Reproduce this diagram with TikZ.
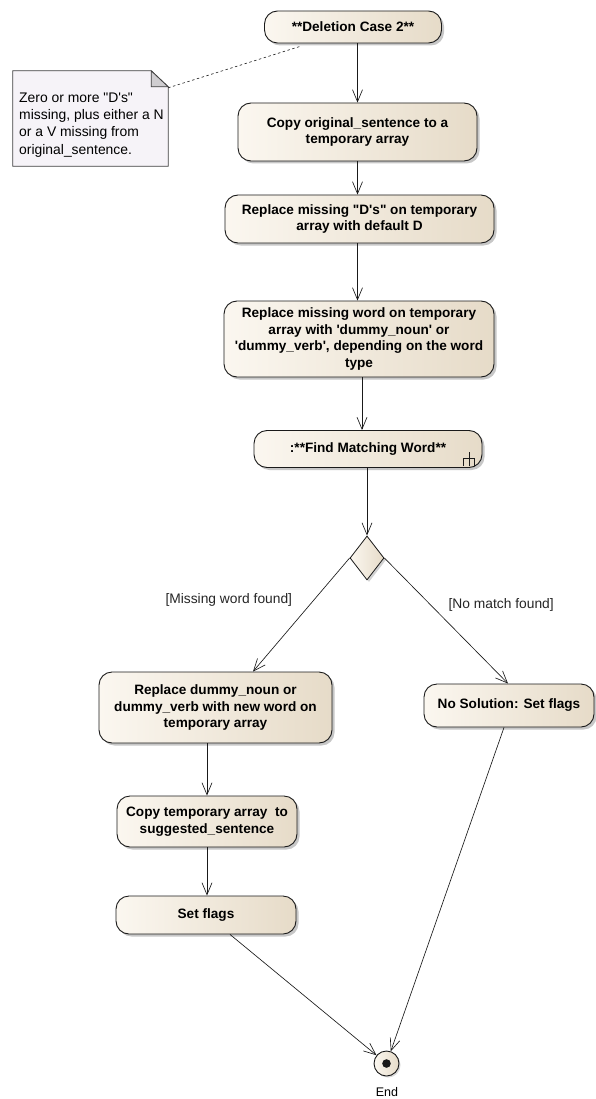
\documentclass[tikz,border=0pt]{standalone}
\usepackage{fontspec}
\setmainfont{Liberation Sans}
\usetikzlibrary{arrows.meta,shapes.geometric,shadows,calc}
\newcommand{\sq}{\textquotesingle}
\newcommand{\dq}{\textquotedbl}
\definecolor{actlight}{HTML}{FBF7F0}
\definecolor{actdark}{HTML}{E6DBC8}
\definecolor{notefill}{HTML}{F6F3F8}
\definecolor{foldfill}{HTML}{CFCDD0}
\definecolor{edgecol}{HTML}{1A1A1A}
\tikzset{
  activity/.style={rectangle, rounded corners=13pt, draw=edgecol, line width=0.9pt,
    left color=actlight, right color=actdark, align=center, inner sep=2pt,
    font=\bfseries\fontsize{13.6}{16.5}\selectfont,
    drop shadow={shadow xshift=2.5pt, shadow yshift=-2.5pt, fill=black!40, opacity=0.55}},
  decision/.style={diamond, aspect=0.77, draw=edgecol, line width=0.8pt,
    left color=actlight, right color=actdark, inner sep=0pt,
    minimum width=34pt, minimum height=44pt,
    drop shadow={shadow xshift=2pt, shadow yshift=-2pt, fill=black!35, opacity=0.5}},
  flow/.style={draw=edgecol, line width=0.65pt,
    -{Straight Barb[length=12pt,width=10pt,line width=0.65pt]}},
  guard/.style={font=\fontsize{13.8}{15}\selectfont, text=black!85},
  notetext/.style={align=left, anchor=north west, inner sep=0pt,
    font=\fontsize{13.9}{17.3}\selectfont},
  anchorlink/.style={draw=edgecol, line width=0.6pt, dash pattern=on 2.5pt off 2.5pt}
}
\begin{document}
\begin{tikzpicture}[x=1pt,y=-1pt]
\useasboundingbox[fill=white] (0,0) rectangle (596,1099);

% activity nodes
\node[activity, minimum width=177pt, minimum height=32pt] (start) at (353,27) {**Deletion Case 2**};
\node[activity, minimum width=239pt, minimum height=58pt] (copyA) at (357.5,132) {Copy original\_sentence to a\\temporary array};
\node[activity, minimum width=269pt, minimum height=48pt] (repD) at (359.5,219) {Replace missing \dq D\sq s\dq{} on temporary\\array with default D};
\node[activity, minimum width=270pt, minimum height=76pt] (repW) at (359,339) {Replace missing word on temporary\\array with \sq dummy\_noun\sq{} or\\\sq dummy\_verb\sq, depending on the word\\type};
\node[activity, minimum width=228pt, minimum height=37pt] (find) at (368,449) {:**Find Matching Word**};
\node[decision] (dec) at (367,558) {};
\node[activity, minimum width=233pt, minimum height=71pt] (repN) at (215.5,707.5) {Replace dummy\_noun or\\dummy\_verb with new word on\\temporary array};
\node[activity, minimum width=170pt, minimum height=43pt] (noSol) at (509,705.5) {No Solution: Set flags};
\node[activity, minimum width=180pt, minimum height=51pt] (copyT) at (207,821.5) {Copy temporary array\ \ to\\suggested\_sentence};
\node[activity, minimum width=180pt, minimum height=38pt] (flags) at (206,915) {Set flags};

% final node
\node[circle, draw=edgecol, line width=0.9pt, left color=actlight, right color=actdark,
  minimum size=25pt, inner sep=0pt,
  drop shadow={shadow xshift=1.5pt, shadow yshift=-1.5pt, fill=black!30, opacity=0.5}] (end) at (386.5,1063.5) {};
\fill[edgecol] (end.center) circle (4.3pt);
\node[font=\fontsize{12.5}{14}\selectfont] (endlbl) at (387,1092) {End};

% call-behaviour rake on the Find node
\draw[edgecol, line width=0.9pt] ([xshift=-13pt,yshift=-3pt]find.east) -- ([xshift=-13pt,yshift=-17pt]find.east)
  ([xshift=-19pt,yshift=-17pt]find.east) -- ([xshift=-19pt,yshift=-9.5pt]find.east) -- ([xshift=-8pt,yshift=-9.5pt]find.east) -- ([xshift=-8pt,yshift=-17pt]find.east);

% note with folded corner
\node[minimum width=155pt, minimum height=95pt, inner sep=0pt] (note) at (90.5,118.5) {};
\filldraw[fill=notefill, draw=black!75, line width=0.8pt]
  (note.south west) -- (note.north west) -- ([xshift=-17pt]note.north east)
  -- ([yshift=-16pt]note.north east) -- (note.south east) -- cycle;
\filldraw[fill=foldfill, draw=black!75, line width=0.8pt]
  ([xshift=-17pt]note.north east) -- ([xshift=-17pt,yshift=-16pt]note.north east)
  -- ([yshift=-16pt]note.north east) -- cycle;
\node[notetext] (notebody) at (19,92.5) {Zero or more \dq D\sq s\dq\\missing, plus either a N\\or a V missing from\\original\_sentence.};
\coordinate (noteC) at ([yshift=-17pt]note.north east);
\draw[anchorlink] (noteC) -- ([xshift=-53pt,yshift=-3pt]start.south);

% control flow
\draw[flow] (start.south -| copyA.north) -- (copyA.north);
\draw[flow] (copyA.south) -- (copyA.south |- repD.north);
\draw[flow] (copyA.south |- repD.south) -- (copyA.south |- repW.north);
\draw[flow] ([xshift=3pt]repW.south) -- ([xshift=3pt]repW.south |- find.north);
\draw[flow] (find.south -| dec.north) -- (dec.north);
\draw[flow] (dec.west) -- node[guard, pos=0.5, xshift=-72.5pt, yshift=15pt] {[Missing word found]} ([xshift=37.5pt]repN.north);
\draw[flow] (dec.east) -- node[guard, pos=0.5, xshift=55pt, yshift=16pt] {[No match found]} ([xshift=-1pt]noSol.north);
\draw[flow] (copyT.north |- repN.south) -- (copyT.north);
\draw[flow] (copyT.south) -- (copyT.south |- flags.north);
\draw[flow] ([xshift=24pt]flags.south) -- (end);
\draw[flow] ([xshift=-5pt]noSol.south) -- (end);
\end{tikzpicture}
\end{document}
